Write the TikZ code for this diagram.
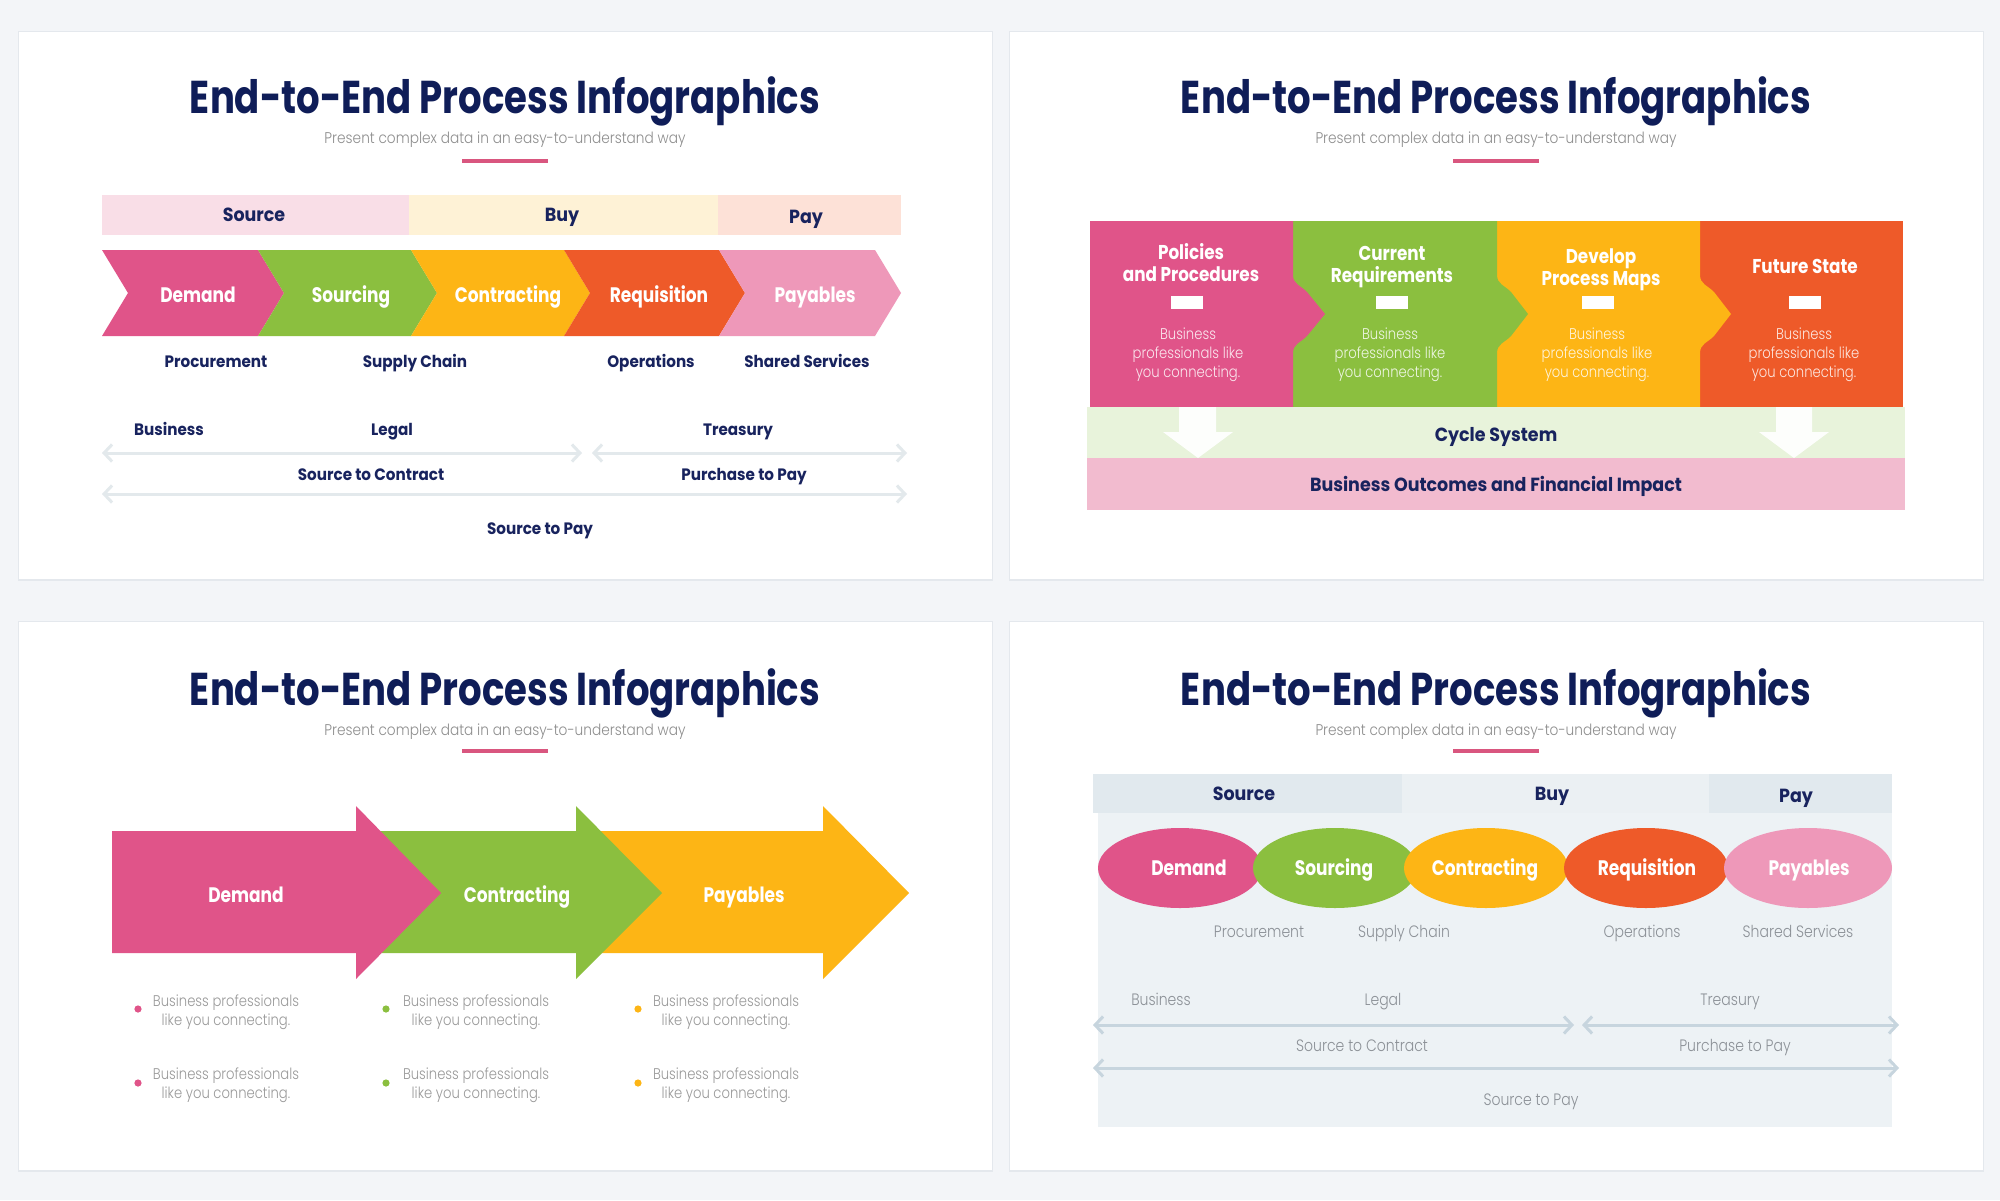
\documentclass[tikz,border=0pt]{standalone}
\usepackage{fontspec}
\setmainfont{Poppins}
\newfontfamily\lightf{Poppins Light}
\usepackage{graphicx}
\usetikzlibrary{arrows.meta}
\definecolor{bgc}{HTML}{F3F5F8}
\definecolor{shad}{HTML}{E4E8ED}
\definecolor{navy}{HTML}{0F1D58}
\definecolor{tnavy}{HTML}{18235E}
\definecolor{subg}{HTML}{8E8E8E}
\definecolor{ulc}{HTML}{D9567F}
\definecolor{cpink}{HTML}{E05489}
\definecolor{cgreen}{HTML}{8BBF3F}
\definecolor{cyellow}{HTML}{FDB515}
\definecolor{corange}{HTML}{EE5A29}
\definecolor{clpink}{HTML}{EE98B9}
\definecolor{hsrc}{HTML}{F9DEE7}
\definecolor{hbuy}{HTML}{FEF2D6}
\definecolor{hpay}{HTML}{FDE1D7}
\definecolor{arrA}{HTML}{E3E9EC}
\definecolor{cyc}{HTML}{E8F3DB}
\definecolor{outc}{HTML}{F2BBCF}
\definecolor{p4bg}{HTML}{EDF2F5}
\definecolor{p4h}{HTML}{E1E9EE}
\definecolor{p4b}{HTML}{EBF0F3}
\definecolor{arrB}{HTML}{C7D5DE}
\definecolor{grayt}{HTML}{8C9197}
\definecolor{bulg}{HTML}{9A9A9A}
\newcommand\sqb[1]{\scalebox{0.92}[1]{#1}}
\newcommand\sqw[1]{\scalebox{0.81}[1]{#1}}
\newcommand\sqh[1]{\scalebox{0.84}[1]{#1}}
\newcommand\sql[1]{\scalebox{0.85}[1]{#1}}
\newcommand\mlines[1]{\begin{tabular}[t]{@{}c@{}}#1\end{tabular}}
\newcommand\ttltext{\resizebox{630pt}{\height}{End-to-End Process Infographics}}
\newcommand\subtext{\resizebox{361pt}{\height}{Present complex data in an easy-to-understand way}}
\newcommand\bnd[2]{-- (#1,275) .. controls (#1,284) and ({#1+7},285) .. ({#1+14},292) -- (#2,314) -- ({#1+14},336) .. controls ({#1+7},343) and (#1,344) .. (#1,353) -- (#1,407)}
\tikzset{
  every node/.style={inner sep=0pt, anchor=base},
  ttl/.style={text=navy, font=\bfseries\fontsize{46}{46}\selectfont},
  sub/.style={text=subg, font=\lightf\fontsize{15.5}{18}\selectfont},
  ul/.style={ulc, line width=3.5pt},
  lb/.style={text=tnavy, font=\bfseries\fontsize{16.5}{20}\selectfont},
  hd/.style={text=tnavy, font=\bfseries\fontsize{19}{22}\selectfont},
  wl/.style={text=white, font=\bfseries\fontsize{21}{24}\selectfont},
  ph/.style={text=white, font=\bfseries\fontsize{20}{22}\selectfont},
  pb/.style={text=white, text opacity=0.85, font=\lightf\fontsize{15.5}{19.2}\selectfont},
  bt/.style={text=bulg, font=\lightf\fontsize{15.5}{19}\selectfont},
  gl/.style={text=grayt, font=\lightf\fontsize{16.5}{20}\selectfont},
  tipA/.tip={Straight Barb[length=8pt,width=17pt]},
  arrowA/.style={arrA, line width=3pt, tipA-tipA},
  arrowB/.style={arrB, line width=3pt, tipA-tipA},
  dn/.style={fill=white, fill opacity=0.92},
}
\begin{document}
\begin{tikzpicture}[x=1pt,y=-1pt]
\useasboundingbox (0,0) rectangle (2000,1200);
\fill[bgc] (0,0) rectangle (2000,1200);
% panels
\fill[shad] (18,31) rectangle (993,581);
\fill[white] (19,32) rectangle (992,579);
\fill[shad] (1009,31) rectangle (1984,581);
\fill[white] (1010,32) rectangle (1983,579);
\fill[shad] (18,621) rectangle (993,1172);
\fill[white] (19,622) rectangle (992,1170);
\fill[shad] (1009,621) rectangle (1984,1172);
\fill[white] (1010,622) rectangle (1983,1170);

% ---------- titles ----------
\node[ttl] (t1) at (505,113) {\ttltext};
\node[sub] (s1) at (505,143) {\subtext};
\draw[ul] (462,161) -- (548,161);
\node[ttl] (t2) at (1496,113) {\ttltext};
\node[sub] (s2) at (1496,143) {\subtext};
\draw[ul] (1453,161) -- (1539,161);
\node[ttl] (t3) at (505,705) {\ttltext};
\node[sub] (s3) at (505,735) {\subtext};
\draw[ul] (462,751) -- (548,751);
\node[ttl] (t4) at (1496,705) {\ttltext};
\node[sub] (s4) at (1496,735) {\subtext};
\draw[ul] (1453,751) -- (1539,751);

% ---------- panel 1 ----------
\fill[hsrc] (102,195) rectangle (409,235);
\fill[hbuy] (409,195) rectangle (718,235);
\fill[hpay] (718,195) rectangle (901,235);
\node[hd] (p1src) at (254,221) {\sqb{Source}};
\node[hd] (p1buy) at (562,221) {\sqb{Buy}};
\node[hd] (p1pay) at (806,223) {\sqb{Pay}};

\fill[cpink] (102,250) -- (258,250) -- (284,293) -- (258,336) -- (102,336) -- (128,293) -- cycle;
\fill[cgreen] (258,250) -- (411,250) -- (437,293) -- (411,336) -- (258,336) -- (284,293) -- cycle;
\fill[cyellow] (411,250) -- (564,250) -- (590,293) -- (564,336) -- (411,336) -- (437,293) -- cycle;
\fill[corange] (564,250) -- (719,250) -- (745,293) -- (719,336) -- (564,336) -- (590,293) -- cycle;
\fill[clpink] (719,250) -- (875,250) -- (901,293) -- (875,336) -- (719,336) -- (745,293) -- cycle;
\node[wl] (c1) at (198,302) {\sqw{Demand}};
\node[wl] (c2) at (351,302) {\sqw{Sourcing}};
\node[wl] (c3) at (508,302) {\sqw{Contracting}};
\node[wl] (c4) at (659,302) {\sqw{Requisition}};
\node[wl] (c5) at (815,302) {\sqw{Payables}};

\node[lb] (d1) at (216,367) {\sqb{Procurement}};
\node[lb] (d2) at (415,367) {\sqb{Supply Chain}};
\node[lb] (d3) at (651,367) {\sqb{Operations}};
\node[lb] (d4) at (807,367) {\sqb{Shared Services}};
\node[lb] (f1) at (169,435) {\sqb{Business}};
\node[lb] (f2) at (392,435) {\sqb{Legal}};
\node[lb] (f3) at (738,435) {\sqb{Treasury}};
\coordinate (a1s) at (102,453); \coordinate (a1e) at (582,453);
\coordinate (a2s) at (592,453); \coordinate (a2e) at (907,453);
\coordinate (a3s) at (102,494); \coordinate (a3e) at (907,494);
\draw[arrowA] (a1s) -- (a1e);
\draw[arrowA] (a2s) -- (a2e);
\draw[arrowA] (a3s) -- (a3e);
\node[lb] (g1) at (371,480) {\sqb{Source to Contract}};
\node[lb] (g2) at (744,480) {\sqb{Purchase to Pay}};
\node[lb] (g3) at (540,534) {\sqb{Source to Pay}};

% ---------- panel 2 ----------
\fill[corange] (1700,221) rectangle (1903,407);
\fill[cyellow] (1497,221) -- (1700,221) \bnd{1700}{1731} -- (1497,407) -- cycle;
\fill[cgreen] (1293,221) -- (1497,221) \bnd{1497}{1528} -- (1293,407) -- cycle;
\fill[cpink] (1090,221) -- (1293,221) \bnd{1293}{1325} -- (1090,407) -- cycle;
\fill[cyc] (1087,407) rectangle (1905,458);
\fill[outc] (1087,458) rectangle (1905,510);
\fill[dn] (1179,407) -- (1216,407) -- (1216,432) -- (1233,432) -- (1198,458) -- (1163,432) -- (1179,432) -- cycle;
\fill[dn] (1776,407) -- (1812,407) -- (1812,432) -- (1829,432) -- (1794,458) -- (1759,432) -- (1776,432) -- cycle;
\node[ph] (h1) at (1191,259) {\sqh{\mlines{Policies\\and Procedures}}};
\node[ph] (h2) at (1392,260) {\sqh{\mlines{Current\\Requirements}}};
\node[ph] (h3) at (1601,263) {\sqh{\mlines{Develop\\Process Maps}}};
\node[ph] (h4) at (1805,273) {\sqh{Future State}};
\fill[white] (1171,296) rectangle (1203,309);
\fill[white] (1376,296) rectangle (1408,309);
\fill[white] (1582,296) rectangle (1614,309);
\fill[white] (1789,296) rectangle (1821,309);
\node[pb] (b1) at (1188,339) {\sql{\mlines{Business\\professionals like\\you connecting.}}};
\node[pb] (b2) at (1390,339) {\sql{\mlines{Business\\professionals like\\you connecting.}}};
\node[pb] (b3) at (1597,339) {\sql{\mlines{Business\\professionals like\\you connecting.}}};
\node[pb] (b4) at (1804,339) {\sql{\mlines{Business\\professionals like\\you connecting.}}};
\node[hd] (cy) at (1496,441) {\sqb{Cycle System}};
\node[hd] (bo) at (1496,491) {\sqb{Business Outcomes and Financial Impact}};

% ---------- panel 3 ----------
\fill[cyellow] (576,831) -- (823,831) -- (823,806) -- (909,893) -- (823,979) -- (823,953) -- (576,953) -- cycle;
\fill[cgreen] (356,831) -- (576,831) -- (576,806) -- (662,893) -- (576,979) -- (576,953) -- (356,953) -- cycle;
\fill[cpink] (112,831) -- (356,831) -- (356,806) -- (441,893) -- (356,979) -- (356,953) -- (112,953) -- cycle;
\node[wl] (r1) at (246,902) {\sqw{Demand}};
\node[wl] (r2) at (517,902) {\sqw{Contracting}};
\node[wl] (r3) at (744,902) {\sqw{Payables}};
\fill[cpink] (138,1009) circle (3.6);
\fill[cpink] (138,1083) circle (3.6);
\fill[cgreen] (386,1009) circle (3.6);
\fill[cgreen] (386,1083) circle (3.6);
\fill[cyellow] (638,1009) circle (3.6);
\fill[cyellow] (638,1083) circle (3.6);
\node[bt] (q1) at (226,1006) {\sql{\mlines{Business professionals\\like you connecting.}}};
\node[bt] (q2) at (226,1079) {\sql{\mlines{Business professionals\\like you connecting.}}};
\node[bt] (q3) at (476,1006) {\sql{\mlines{Business professionals\\like you connecting.}}};
\node[bt] (q4) at (476,1079) {\sql{\mlines{Business professionals\\like you connecting.}}};
\node[bt] (q5) at (726,1006) {\sql{\mlines{Business professionals\\like you connecting.}}};
\node[bt] (q6) at (726,1079) {\sql{\mlines{Business professionals\\like you connecting.}}};

% ---------- panel 4 ----------
\fill[p4bg] (1098,813) rectangle (1892,1127);
\fill[p4h] (1093,774) rectangle (1402,813);
\fill[p4b] (1402,774) rectangle (1709,813);
\fill[p4h] (1709,774) rectangle (1892,813);
\node[hd] (p4src) at (1244,800) {\sqb{Source}};
\node[hd] (p4buy) at (1552,800) {\sqb{Buy}};
\node[hd] (p4pay) at (1796,802) {\sqb{Pay}};
\fill[cpink] (1180,868) ellipse [x radius=82, y radius=40];
\fill[cgreen] (1335,868) ellipse [x radius=82, y radius=40];
\fill[cyellow] (1486,868) ellipse [x radius=82, y radius=40];
\fill[corange] (1646,868) ellipse [x radius=82, y radius=40];
\fill[clpink] (1808,868) ellipse [x radius=84, y radius=40];
\node[wl] (o1) at (1189,875) {\sqw{Demand}};
\node[wl] (o2) at (1334,875) {\sqw{Sourcing}};
\node[wl] (o3) at (1485,875) {\sqw{Contracting}};
\node[wl] (o4) at (1647,875) {\sqw{Requisition}};
\node[wl] (o5) at (1809,875) {\sqw{Payables}};
\node[gl] (m1) at (1259,937) {\sql{Procurement}};
\node[gl] (m2) at (1404,937) {\sql{Supply Chain}};
\node[gl] (m3) at (1642,937) {\sql{Operations}};
\node[gl] (m4) at (1798,937) {\sql{Shared Services}};
\node[gl] (k1) at (1161,1005) {\sql{Business}};
\node[gl] (k2) at (1383,1005) {\sql{Legal}};
\node[gl] (k3) at (1730,1005) {\sql{Treasury}};
\coordinate (b1s) at (1093,1025); \coordinate (b1e) at (1574,1025);
\coordinate (b2s) at (1582,1025); \coordinate (b2e) at (1899,1025);
\coordinate (b3s) at (1093,1068); \coordinate (b3e) at (1899,1068);
\draw[arrowB] (b1s) -- (b1e);
\draw[arrowB] (b2s) -- (b2e);
\draw[arrowB] (b3s) -- (b3e);
\node[gl] (n1) at (1362,1051) {\sql{Source to Contract}};
\node[gl] (n2) at (1735,1051) {\sql{Purchase to Pay}};
\node[gl] (n3) at (1531,1105) {\sql{Source to Pay}};
\end{tikzpicture}
\end{document}
